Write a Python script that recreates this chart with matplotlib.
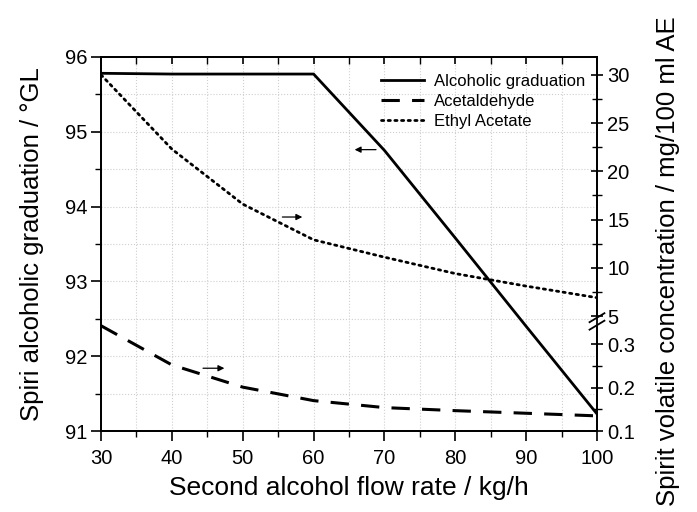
import numpy as np
import matplotlib
matplotlib.use("Agg")
import matplotlib.pyplot as plt
from matplotlib.ticker import MultipleLocator, FixedLocator

plt.rcParams['font.family'] = ['Liberation Sans', 'DejaVu Sans']

# flow rate of the second alcohol stream (kg/h)
flow = [30, 40, 50, 60, 70, 80, 90, 100]
# spirit alcoholic graduation (°GL), left axis
graduation = [95.78, 95.77, 95.77, 95.77, 94.75, 93.58, 92.40, 91.23]
# volatile concentrations (mg/100 ml AE), right axis
acetaldehyde = [0.342, 0.252, 0.201, 0.170, 0.154, 0.147, 0.141, 0.135]
ethyl_acetate = [30.0, 22.3, 16.6, 12.9, 11.1, 9.4, 8.1, 6.9]

right_major = [0.1, 0.2, 0.3, 5, 10, 15, 20, 25, 30]
right_minor = [0.15, 0.25, 7.5, 12.5, 17.5, 22.5, 27.5]

# broken right axis: 0.1-0.35 on the lower part, 5-30 above
xp = [-1.0, 0.1, 0.355, 5.0, 100.0]
fp = [-1.1 * 435, 0.0, 0.255 * 435, 115.0, 115.0 + 95 * 9.64]


def fwd(v):
    return np.interp(v, xp, fp)


def inv(t):
    return np.interp(t, fp, xp)


fig = plt.figure(figsize=(6.97, 5.12), dpi=100)
ax = fig.add_axes([0.145, 0.158, 0.7115, 0.731])
ax2 = ax.twinx()
ax2.set_yscale('function', functions=(fwd, inv))

l1, = ax.plot(flow, graduation, color='black', lw=2.0, label='Alcoholic graduation')
l2, = ax2.plot(flow, acetaldehyde, color='black', lw=2.2, dashes=(6, 4),
               label='Acetaldehyde')
l3, = ax2.plot(flow, ethyl_acetate, color='black', lw=2.0, dashes=(0.8, 1.6),
               dash_capstyle='round', label='Ethyl Acetate')

ax.set_xlim(30, 100)
ax.set_ylim(91, 96)
ax2.set_ylim(0.1, float(inv(374)))

ax.xaxis.set_major_locator(MultipleLocator(10))
ax.xaxis.set_minor_locator(MultipleLocator(5))
ax.yaxis.set_major_locator(MultipleLocator(1))
ax.yaxis.set_minor_locator(MultipleLocator(0.5))
ax2.yaxis.set_major_locator(FixedLocator(right_major))
ax2.yaxis.set_minor_locator(FixedLocator(right_minor))
ax2.set_yticklabels(['0.1', '0.2', '0.3', '5', '10', '15', '20', '25', '30'])

ax.grid(True, which='both', color='#cfcfcf', ls=':', lw=0.8)
ax.set_axisbelow(True)

ax.tick_params(axis='both', which='major', labelsize=14.5, length=7, width=1.2,
               direction='out', pad=3)
ax.tick_params(axis='x', which='major', pad=6)
ax.tick_params(axis='both', which='minor', length=4, width=1.0, direction='out')
ax.tick_params(axis='x', which='both', top=True)
ax2.tick_params(axis='y', which='major', labelsize=14.5, length=9, width=1.2,
                direction='inout', pad=3)
ax2.tick_params(axis='y', which='minor', length=7, width=1.0, direction='inout')

# top ticks point inward
for t in ax.xaxis.get_major_ticks() + ax.xaxis.get_minor_ticks():
    t.tick2line.set_marker(matplotlib.lines.TICKDOWN)
    t.tick2line.set_markersize(5)

for s in list(ax.spines.values()) + list(ax2.spines.values()):
    s.set_linewidth(1.3)

ax.set_xlabel('Second alcohol flow rate / kg/h', fontsize=19, labelpad=6)
ax.set_ylabel('Spiri alcoholic graduation / °GL', fontsize=18.5, labelpad=15)
ax2.set_ylabel('Spirit volatile concentration / mg/100 ml AE', fontsize=18.5,
               labelpad=15)
ax2.yaxis.label.set_y(0.455)

# axis-break marks on the right spine
for f in (0.283, 0.303):
    ax2.plot([0.985, 1.015], [f - 0.012, f + 0.012], transform=ax2.transAxes,
             color='black', lw=1.3, clip_on=False)
ax2.plot([1.0, 1.0], [0.287, 0.299], transform=ax2.transAxes, color='white',
         lw=2.5, clip_on=False, zorder=0.5)

# arrows pointing to each curve's axis
arrow = dict(arrowstyle='-|>', color='black', lw=0.9, mutation_scale=9)
ax.annotate('', xy=(65.4, 94.76), xytext=(69.2, 94.76), arrowprops=arrow)
ax.annotate('', xy=(58.8, 93.86), xytext=(55.2, 93.86), arrowprops=arrow)
ax.annotate('', xy=(47.8, 91.84), xytext=(44.0, 91.84), arrowprops=arrow)

ax2.legend(handles=[l1, l2, l3], loc='upper right', bbox_to_anchor=(1.0, 0.985),
           frameon=False, fontsize=12, handlelength=2.6, handletextpad=0.6,
           labelspacing=0.3, borderaxespad=0.3)

fig.savefig('out.png', dpi=100)
